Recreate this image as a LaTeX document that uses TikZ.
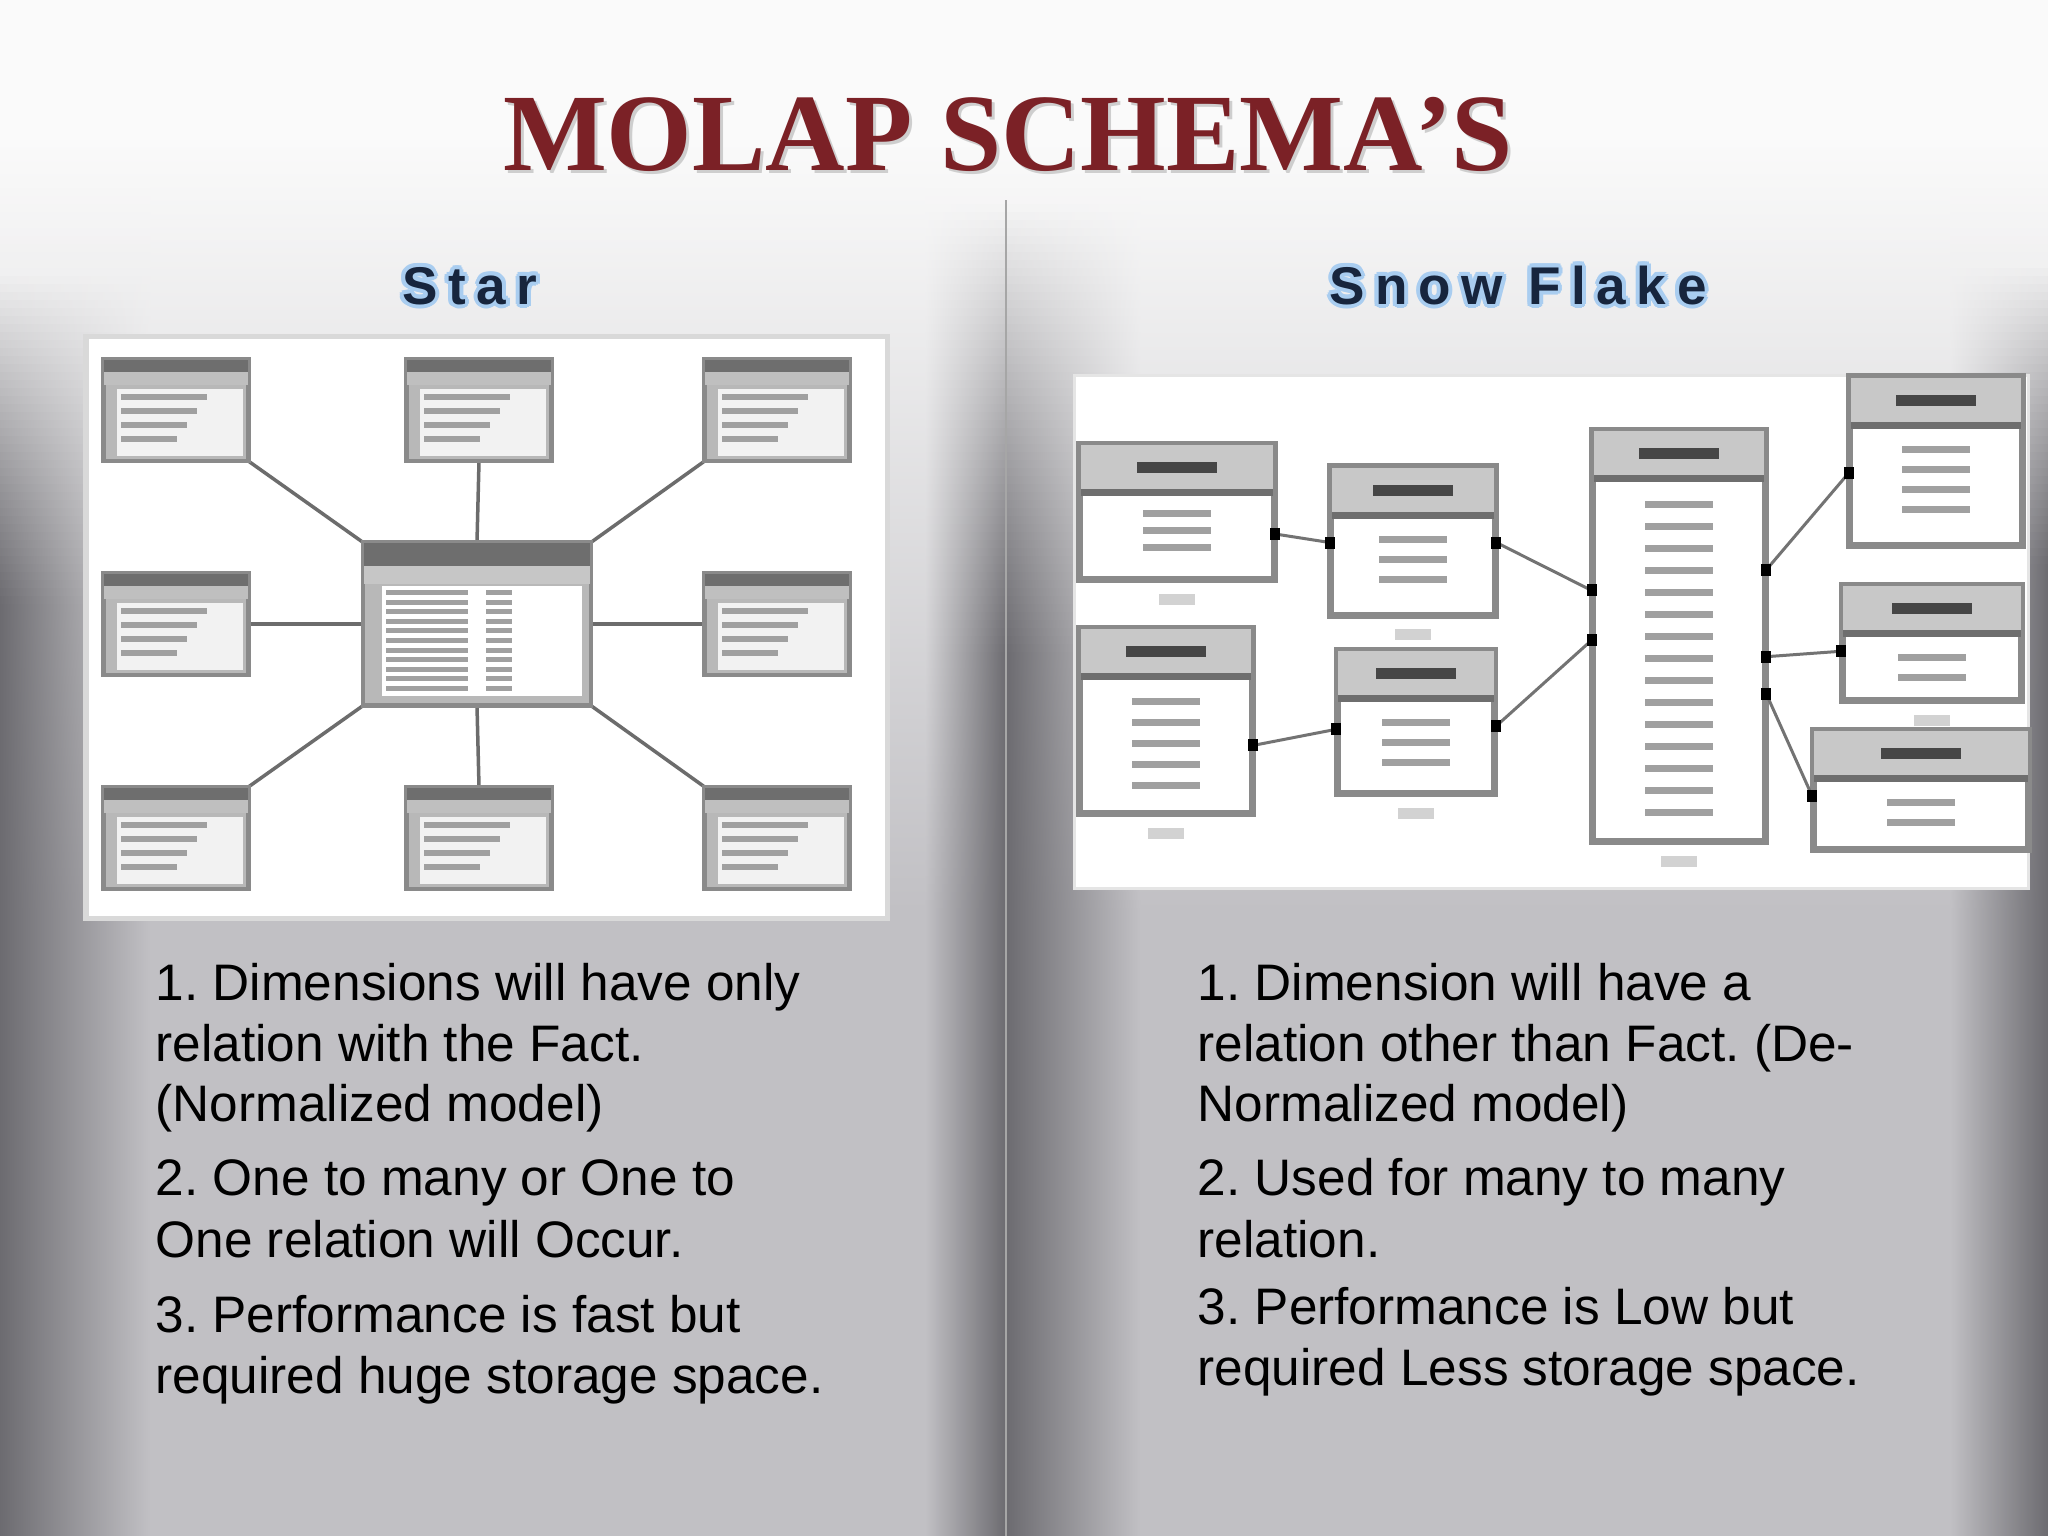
\documentclass[tikz,border=0pt]{standalone}
\usepackage{fontspec}
\setmainfont{Liberation Sans}
\newfontfamily\titlefont{Liberation Serif}
\newfontfamily\headfont{Liberation Sans}[LetterSpace=20]
\usetikzlibrary{calc}

\definecolor{bgTop}{HTML}{FAFAFA}
\definecolor{bgGray}{HTML}{C1C0C4}
\definecolor{edgeDark}{HTML}{6C6B70}
\definecolor{titleRed}{HTML}{7B2126}
\definecolor{headNavy}{HTML}{17253D}
\definecolor{headGlow}{HTML}{A9CDF0}
\definecolor{tabFrame}{HTML}{8A8A8A}
\definecolor{tabBody}{HTML}{B8B8B8}
\definecolor{tabHead}{HTML}{6E6E6E}
\definecolor{rowGray}{HTML}{A0A0A0}
\definecolor{snowHead}{HTML}{C8C8C8}

\begin{document}
\begin{tikzpicture}[
    x=0.01cm, y=-0.01cm,
    startab/.style={rectangle, draw=tabFrame, fill=tabBody, line width=0.3mm, inner sep=0pt, minimum width=1.43cm, minimum height=1.0cm},
    snowtab/.style={rectangle, draw=tabFrame, fill=white, line width=0.45mm, inner sep=0pt},
    starline/.style={draw=gray!85!black, line width=0.35mm},
    snowline/.style={draw=gray!90!black, line width=0.3mm},
    titletext/.style={anchor=base, inner sep=0pt, font=\titlefont\bfseries\fontsize{31.3}{36}\selectfont},
    headtext/.style={anchor=base, inner sep=0pt, font=\headfont\bfseries\fontsize{15.1}{18}\selectfont},
    bodytext/.style={anchor=base west, inner sep=0pt, font=\fontsize{14.6}{17.6}\selectfont\frenchspacing, text=black}
]
    \useasboundingbox (0,0) rectangle (2048,1536);

    % slide background
    \fill[bgTop] (0,0) rectangle (2048,141);
    \shade[top color=bgTop, bottom color=bgGray] (0,140) rectangle (2048,911);
    \fill[bgGray] (0,910) rectangle (2048,1536);
    \foreach \i in {0,...,92} {
        \pgfmathsetmacro{\ya}{180+8*\i}
        \pgfmathsetmacro{\yb}{\ya+9}
        \pgfmathsetmacro{\pb}{min(100,max(0,(\ya+4-140)/7.7))}
        \pgfmathsetmacro{\lev}{min(100,max(0,(\ya-270)/3.3))}
        \pgfmathsetmacro{\fol}{min(100,max(0,(\ya-200)/4.5))}
        \pgfmathsetmacro{\rig}{min(100,max(0,(\ya-260)/3.0))}
        \colorlet{stripbase}{bgGray!\pb!bgTop}
        \colorlet{stripL}{edgeDark!\lev!stripbase}
        \colorlet{stripF}{edgeDark!\fol!stripbase}
        \colorlet{stripR}{edgeDark!\rig!stripbase}
        \shade[left color=stripL, right color=stripbase] (0,\ya) rectangle (150,\yb);
        \shade[left color=stripbase, right color=stripF] (925,\ya) rectangle (1006,\yb);
        \shade[left color=stripF, right color=stripbase] (1006,\ya) rectangle (1140,\yb);
        \shade[left color=stripbase, right color=stripR] (1950,\ya) rectangle (2048,\yb);
    }
    \shade[left color=edgeDark, right color=bgGray] (0,920) rectangle (150,1536);
    \shade[left color=bgGray, right color=edgeDark] (925,920) rectangle (1006,1536);
    \shade[left color=edgeDark, right color=bgGray] (1006,920) rectangle (1140,1536);
    \shade[left color=bgGray, right color=edgeDark] (1950,920) rectangle (2048,1536);
    \draw[gray!70, line width=0.15mm] (1006,200) -- (1006,1536);

    % title and headings
    \node[titletext, text=gray!60, opacity=0.6] (titleshadow) at (1011,173) {MOLAP SCHEMA’S};
    \node[titletext, text=titleRed] (title) at (1008,170) {MOLAP SCHEMA’S};
    \foreach \a in {0,30,...,330} {
        \node[headtext, text=headGlow] (sg\a) at ($(470,304)+(\a:4)$) {Star};
        \node[headtext, text=headGlow] (fg\a) at ($(1518,304)+(\a:4)$) {Snow Flake};
    }
    \node[headtext, text=headNavy] (starhead) at (470,304) {Star};
    \node[headtext, text=headNavy] (snowhead) at (1518,304) {Snow Flake};

    % Star schema panel
    \filldraw[fill=white, draw=gray!30, line width=0.5mm] (86,336) rectangle (887,918);
    \node[startab] (tl) at (176,410) {};
    \node[startab] (tm) at (479,410) {};
    \node[startab] (tr) at (777,410) {};
    \node[startab] (ml) at (176,624) {};
    \node[startab] (mr) at (777,624) {};
    \node[startab] (bl) at (176,838) {};
    \node[startab] (bm) at (479,838) {};
    \node[startab] (br) at (777,838) {};
    \node[startab, minimum width=2.26cm, minimum height=1.61cm] (ctr) at (477,624) {};

    \foreach \a/\b in {tl.south east/ctr.north west, tm.south/ctr.north, tr.south west/ctr.north east,
                       ml.east/ctr.west, mr.west/ctr.east,
                       bl.north east/ctr.south west, bm.north/ctr.south, br.north west/ctr.south east}
        \draw[starline] (\a) -- (\b);

    \foreach \n in {tl,tm,tr,ml,mr,bl,bm,br} {
        \fill[tabHead] (\n.north west) rectangle ($(\n.north east)+(0,14)$);
        \fill[gray!50] ($(\n.north west)+(0,14)$) rectangle ($(\n.north east)+(0,27)$);
        \fill[gray!10] ($(\n.north west)+(14,31)$) rectangle ($(\n.south east)+(-6,-6)$);
        \foreach \r in {0,...,3}
            \fill[rowGray] ($(\n.north west)+(18,36+\r*14)$) rectangle ($(\n.north west)+(104-\r*10,42+\r*14)$);
        \draw[tabFrame, line width=0.3mm] (\n.north west) rectangle (\n.south east);
    }
    % fact table in the middle
    \fill[tabHead] (ctr.north west) rectangle ($(ctr.north east)+(0,24)$);
    \fill[gray!45] ($(ctr.north west)+(0,24)$) rectangle ($(ctr.north east)+(0,42)$);
    \fill[white] ($(ctr.north west)+(20,44)$) rectangle ($(ctr.south east)+(-10,-10)$);
    \foreach \r in {0,...,10} {
        \fill[rowGray] ($(ctr.north west)+(24,48+\r*9.6)$) rectangle +(82,5);
        \fill[rowGray] ($(ctr.north west)+(124,48+\r*9.6)$) rectangle +(26,5);
    }
    \draw[tabFrame, line width=0.3mm] (ctr.north west) rectangle (ctr.south east);

    % Snow flake panel
    \filldraw[fill=white, draw=gray!20, line width=0.3mm] (1074,375) rectangle (2028,888);
    \node[snowtab, minimum width=1.92cm, minimum height=1.33cm] (ctyinfo) at (1177,512) {};
    \node[snowtab, minimum width=1.62cm, minimum height=1.46cm] (cty) at (1413,541) {};
    \node[snowtab, minimum width=1.70cm, minimum height=1.83cm] (stname) at (1166,721) {};
    \node[snowtab, minimum width=1.55cm, minimum height=1.41cm] (st) at (1416,722) {};
    \node[snowtab, minimum width=1.70cm, minimum height=4.09cm] (fact) at (1679,636) {};
    \node[snowtab, minimum width=1.70cm, minimum height=1.66cm] (prod) at (1936,461) {};
    \node[snowtab, minimum width=1.77cm, minimum height=1.13cm] (ptype) at (1932,643) {};
    \node[snowtab, minimum width=2.13cm, minimum height=1.17cm] (ptsrc) at (1921,790) {};

    \foreach \n/\rows/\gap in {ctyinfo/3/17, cty/3/20, stname/5/21, st/3/20, fact/15/22, prod/4/20, ptype/2/20, ptsrc/2/20} {
        \fill[snowHead] (\n.north west) rectangle ($(\n.north east)+(0,46)$);
        \fill[tabHead] ($(\n.north west)+(0,46)$) rectangle ($(\n.north east)+(0,53)$);
        \fill[gray!55!black] ($(\n.north)+(-40,19)$) rectangle ($(\n.north)+(40,30)$);
        \foreach \r in {1,...,\rows}
            \fill[rowGray] ($(\n.north)+(-34,50+\r*\gap)$) rectangle ($(\n.north)+(34,57+\r*\gap)$);
        \draw[tabFrame, line width=0.45mm] (\n.north west) rectangle (\n.south east);
    }
    \foreach \n in {ctyinfo,cty,stname,st,fact,ptype}
        \fill[gray!35] ($(\n.south)+(-18,13)$) rectangle ($(\n.south)+(18,24)$);

    % relations with key markers
    \coordinate (a1) at ($(ctyinfo.north east)!0.66!(ctyinfo.south east)$);
    \coordinate (a2) at ($(cty.north west)!0.51!(cty.south west)$);
    \coordinate (b1) at ($(cty.north east)!0.51!(cty.south east)$);
    \coordinate (b2) at ($(fact.north west)!0.39!(fact.south west)$);
    \coordinate (c1) at ($(stname.north east)!0.63!(stname.south east)$);
    \coordinate (c2) at ($(st.north west)!0.55!(st.south west)$);
    \coordinate (d1) at ($(st.north east)!0.53!(st.south east)$);
    \coordinate (d2) at ($(fact.north west)!0.51!(fact.south west)$);
    \coordinate (e1) at ($(fact.north east)!0.34!(fact.south east)$);
    \coordinate (e2) at ($(prod.north west)!0.57!(prod.south west)$);
    \coordinate (f1) at ($(fact.north east)!0.55!(fact.south east)$);
    \coordinate (f2) at ($(ptype.north west)!0.57!(ptype.south west)$);
    \coordinate (g1) at ($(fact.north east)!0.64!(fact.south east)$);
    \coordinate (g2) at ($(ptsrc.north west)!0.55!(ptsrc.south west)$);
    \foreach \p in {a,b,c,d,e,f,g} {
        \draw[snowline] (\p1) -- (\p2);
        \fill[black] ($(\p1)+(-5,-6)$) rectangle ($(\p1)+(5,6)$);
        \fill[black] ($(\p2)+(-5,-6)$) rectangle ($(\p2)+(5,6)$);
    }

    % comparison text
    \foreach \txt/\yy [count=\k] in {1. Dimensions will have only/1000, relation with the Fact./1061,
        {(Normalized model)}/1121, 2. One to many or One to/1195, One relation will Occur./1257,
        3. Performance is fast but/1332, required huge storage space./1393}
        \node[bodytext] (lt\k) at (155,\yy) {\txt};
    \foreach \txt/\yy [count=\k] in {1. Dimension will have a/1000, {relation other than Fact. (De-}/1061,
        {Normalized model)}/1121, 2. Used for many to many/1195, relation./1257,
        3. Performance is Low but/1324, required Less storage space./1385}
        \node[bodytext] (rt\k) at (1197,\yy) {\txt};
\end{tikzpicture}
\end{document}
